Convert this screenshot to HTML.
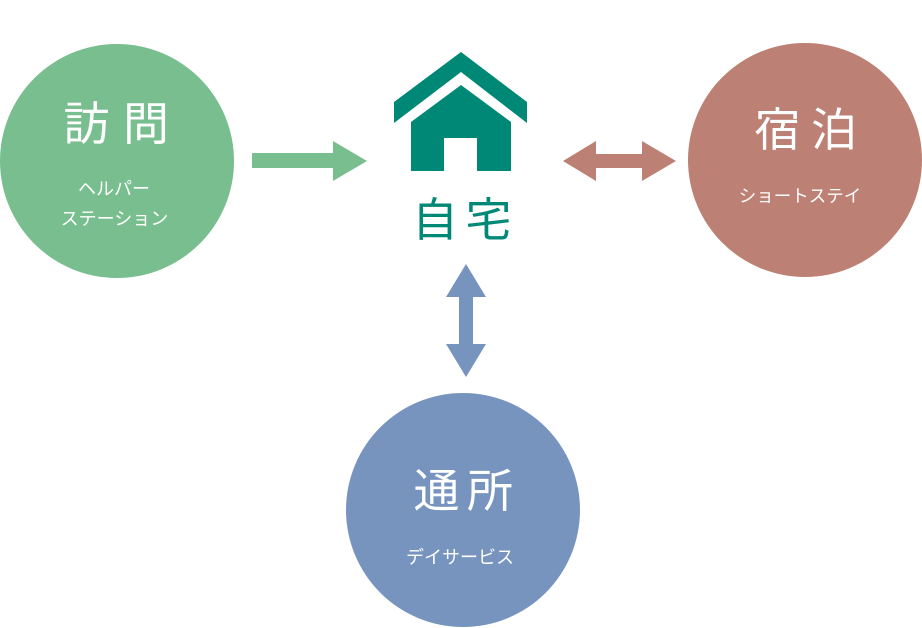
<!DOCTYPE html>
<html>
<head>
<meta charset="utf-8">
<style>
  html, body { margin: 0; padding: 0; background: #ffffff; }
  body { width: 922px; height: 628px; overflow: hidden; }
  svg { display: block; }
  text { font-family: "Liberation Sans", "Noto Sans CJK JP", sans-serif; }
</style>
</head>
<body>
<svg width="922" height="628" viewBox="0 0 922 628" xmlns="http://www.w3.org/2000/svg">
  <rect width="922" height="628" fill="#ffffff"/>

  <!-- Green circle: 訪問 -->
  <circle cx="117" cy="161" r="117" fill="#78be8f"/>
  <g fill="#ffffff" font-size="46" font-weight="400" text-anchor="middle" dominant-baseline="central">
    <text x="86.5" y="124">訪</text>
    <text x="146" y="124">問</text>
  </g>
  <g fill="#ffffff" font-size="18" text-anchor="middle" dominant-baseline="central">
    <text x="114" y="189">ヘルパー</text>
    <text x="114.5" y="219">ステーション</text>
  </g>

  <!-- Green arrow -->
  <polygon points="252,153 333,153 333,141 367,161 333,181 333,168 252,168" fill="#78be8f"/>

  <!-- House icon -->
  <g fill="#008876">
    <polygon points="394,102 461,52 527,102 527,123 461,72 394,123"/>
    <polygon points="461,85 511,122 511,171 477,171 477,138 444,138 444,171 411,171 411,122"/>
  </g>
  <g fill="#008876" font-size="46" font-weight="400" text-anchor="middle" dominant-baseline="central">
    <text x="435" y="220">自</text>
    <text x="488.5" y="220">宅</text>
  </g>

  <!-- Brown double arrow -->
  <polygon points="563,161 596,141 596,154 642,154 642,141 676,161 642,181 642,168 596,168 596,181" fill="#bd8074"/>

  <!-- Brown circle: 宿泊 -->
  <circle cx="805" cy="160" r="117" fill="#bd8074"/>
  <g fill="#ffffff" font-size="46" font-weight="400" text-anchor="middle" dominant-baseline="central">
    <text x="777.5" y="130">宿</text>
    <text x="834" y="130">泊</text>
  </g>
  <text x="800" y="196" fill="#ffffff" font-size="17.5" text-anchor="middle" dominant-baseline="central">ショートステイ</text>

  <!-- Blue double arrow -->
  <polygon points="466,264 486,297 473,297 473,344 486,344 466,377 446,344 459,344 459,297 446,297" fill="#7794bf"/>

  <!-- Blue circle: 通所 -->
  <circle cx="463" cy="510" r="117" fill="#7794bf"/>
  <g fill="#ffffff" font-size="46" font-weight="400" text-anchor="middle" dominant-baseline="central">
    <text x="436.5" y="491">通</text>
    <text x="490" y="491">所</text>
  </g>
  <text x="460" y="557.5" fill="#ffffff" font-size="18" text-anchor="middle" dominant-baseline="central">デイサービス</text>
</svg>
</body>
</html>
